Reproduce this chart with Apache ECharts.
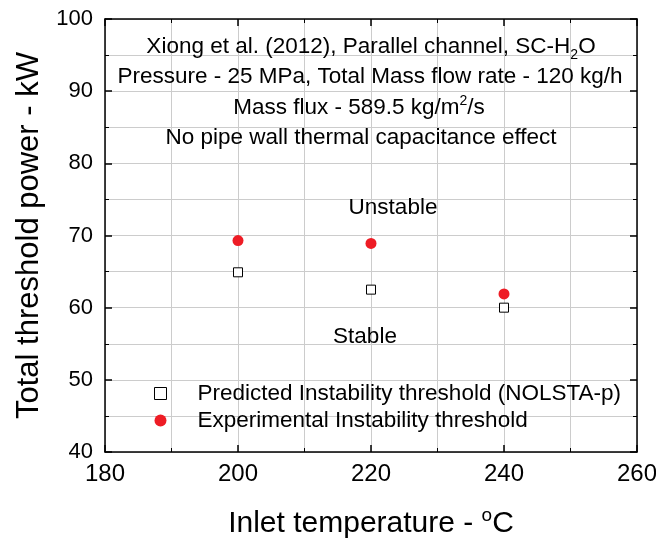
<!DOCTYPE html>
<html>
<head>
<meta charset="utf-8">
<script src="https://cdn.jsdelivr.net/npm/echarts@6/dist/echarts.min.js"></script>
<style>
  html, body { margin: 0; padding: 0; background: #fff; }
  #main { width: 656px; height: 539px; }
</style>
</head>
<body>
<div id="main"></div>
<script>
// inlet temperatures (°C)
var temps = [200, 220, 240];
// predicted threshold, NOLSTA-p (kW)
var predicted = [64.9, 62.5, 60.0];
// experimental threshold (kW)
var experimental = [69.3, 68.9, 61.9];

var FONT = 'Liberation Sans, Arial, sans-serif';
var myChart = echarts.init(document.getElementById('main'));

function pairs(xs, ys) {
  return xs.map(function (x, i) { return [x, ys[i]]; });
}

var sub = { fontSize: 14, fontFamily: FONT, fill: '#000', padding: [17, 0, 0, 0] };
var sup = { fontSize: 14, fontFamily: FONT, fill: '#000', padding: [0, 0, 13, 0] };

function label(text, x, y) {
  return {
    type: 'text', x: x, y: y, z: 100,
    style: { text: text, fontSize: 22.5, fontFamily: FONT, fill: '#000', align: 'center', verticalAlign: 'middle',
      rich: { sub: sub, sup: sup } }
  };
}

var axisCommon = {
  type: 'value',
  axisLine: { show: true, onZero: false, lineStyle: { color: '#000', width: 1.5 } },
  axisTick: { show: true, inside: true, length: 7, lineStyle: { color: '#000', width: 1.5 } },
  minorTick: { show: true, splitNumber: 2, length: 4, lineStyle: { color: '#000', width: 1 } },
  splitLine: { show: true, lineStyle: { color: '#cccccc', width: 1 } },
  minorSplitLine: { show: true, lineStyle: { color: '#cccccc', width: 1 } }
};

myChart.setOption({
  animation: false,
  backgroundColor: '#fff',
  grid: { left: 105, right: 19, top: 19, bottom: 87, outerBoundsMode: 'none' },
  xAxis: [
    Object.assign({}, axisCommon, {
      min: 180, max: 260, interval: 20, position: 'bottom',
      axisLabel: { fontSize: 24, fontFamily: FONT, color: '#000', margin: 10 },
      name: 'Inlet temperature - {sup|o}C',
      nameLocation: 'middle', nameGap: 54,
      nameTextStyle: { fontSize: 30, fontFamily: FONT, color: '#000',
        rich: { sup: { fontSize: 19, fontFamily: FONT, color: '#000', padding: [0, 0, 17, 0] } } }
    }),
    Object.assign({}, axisCommon, {
      min: 180, max: 260, interval: 20, position: 'top',
      axisLabel: { show: false }, splitLine: { show: false }, minorSplitLine: { show: false }
    })
  ],
  yAxis: [
    Object.assign({}, axisCommon, {
      min: 40, max: 100, interval: 10, position: 'left',
      axisLabel: { fontSize: 22, fontFamily: FONT, color: '#000', margin: 12 },
      name: 'Total threshold power - kW',
      nameLocation: 'middle', nameGap: 59,
      nameTextStyle: { fontSize: 31, fontFamily: FONT, color: '#000' }
    }),
    Object.assign({}, axisCommon, {
      min: 40, max: 100, interval: 10, position: 'right',
      axisLabel: { show: false }, splitLine: { show: false }, minorSplitLine: { show: false }
    })
  ],
  legend: {
    orient: 'vertical', left: 149, top: 377,
    itemGap: 4, itemWidth: 12, itemHeight: 12,
    textStyle: { fontSize: 22.5, fontFamily: FONT, color: '#000', padding: [0, 0, 0, 26] },
    data: [
      { name: 'Predicted Instability threshold (NOLSTA-p)', icon: 'path://M2,2H10V10H2Z',
        itemStyle: { color: '#fff', borderColor: '#000', borderWidth: 1 } },
      { name: 'Experimental Instability threshold', icon: 'circle' }
    ]
  },
  series: [
    {
      name: 'Predicted Instability threshold (NOLSTA-p)',
      type: 'scatter', symbol: 'rect', symbolSize: 9,
      itemStyle: { color: '#fff', borderColor: '#000', borderWidth: 1, opacity: 1 },
      data: pairs(temps, predicted)
    },
    {
      name: 'Experimental Instability threshold',
      type: 'scatter', symbol: 'circle', symbolSize: 11,
      itemStyle: { color: '#ee1c25', opacity: 1 },
      data: pairs(temps, experimental)
    }
  ],
  graphic: [
    label('Xiong et al. (2012), Parallel channel, SC-H{sub|2}O', 371, 47),
    label('Pressure - 25 MPa, Total Mass flow rate - 120 kg/h', 370, 77),
    label('Mass flux - 589.5 kg/m{sup|2}/s', 359, 108),
    label('No pipe wall thermal capacitance effect', 361, 138),
    label('Unstable', 393, 208),
    label('Stable', 365, 337)
  ]
});
</script>
</body>
</html>
